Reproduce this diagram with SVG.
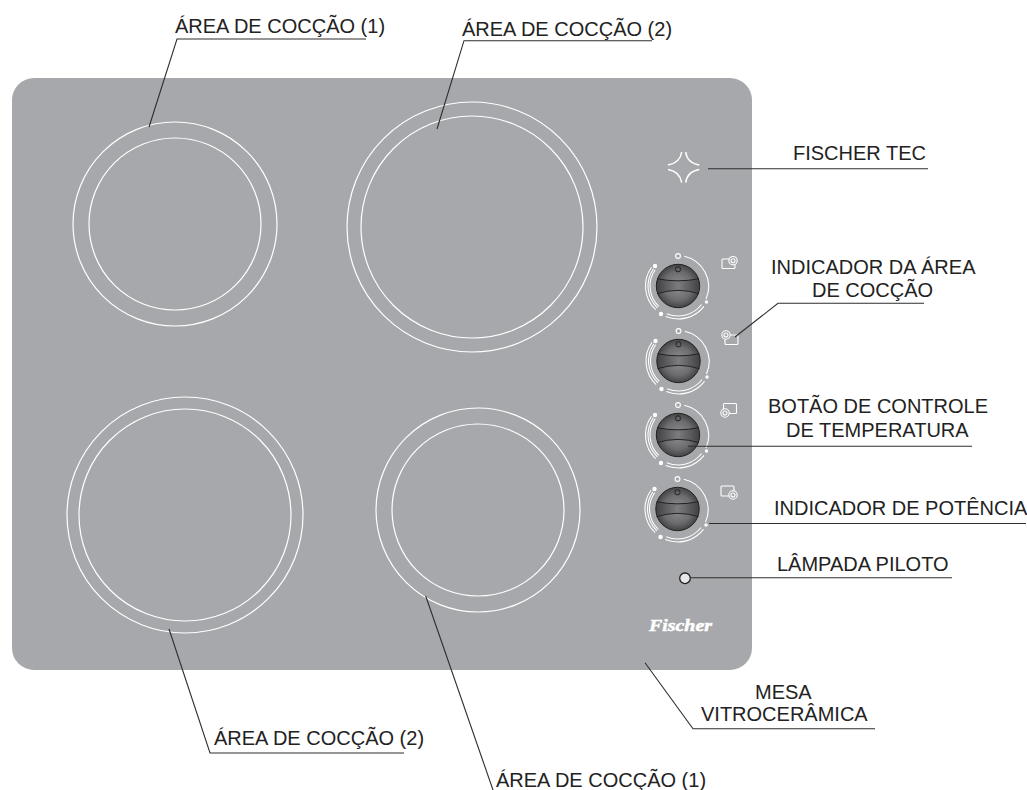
<svg xmlns="http://www.w3.org/2000/svg" xmlns:xlink="http://www.w3.org/1999/xlink" width="1027" height="790" viewBox="0 0 1027 790">
<style>
text{font-family:"Liberation Sans",Arial,sans-serif;font-size:20px;fill:#222}
.z{fill:none;stroke:#fff;stroke-width:1.200}
.w{fill:none;stroke:#fff;stroke-width:1.100}
.l{fill:none;stroke:#2e2e2e;stroke-width:1.100}
.ic{fill:none;stroke:#fff;stroke-width:1.100}
.ir{fill:#a7a8ab;stroke:#fff;stroke-width:1.100}
</style>
<defs>
<radialGradient id="kn" cx="0.5" cy="0.5" r="0.55"><stop offset="0" stop-color="#909092"/><stop offset="0.6" stop-color="#6c6c6e"/><stop offset="1" stop-color="#38383a"/></radialGradient>
<linearGradient id="kb" x1="0" x2="1" y1="0" y2="0"><stop offset="0" stop-color="#404042"/><stop offset="0.5" stop-color="#7c7c7e"/><stop offset="1" stop-color="#404042"/></linearGradient>
<clipPath id="kc"><circle r="21.700"/></clipPath>
<g id="knob">
<circle cy="-30" r="2.400" class="w"/>
<path class="w" d="M6.300-29.700A31 31 0 0 1 28 13"/>
<path class="w" d="M23.600 18.500A30 30 0 0 1-11.200 27.800M26 20.300A33 33 0 0 1-12.300 30.600"/>
<path class="w" d="M-19.200 20.400A28 28 0 0 1-22.800-16.200M-20.600 21.800A30 30 0 0 1-24.500-17.300M-22.300 23.700A32.500 32.500 0 0 1-26.500-18.800"/>
<circle cx="28.500" cy="16" r="1.700" fill="#fff"/><circle cx="-17" cy="28" r="2.200" fill="#fff"/><circle cx="-23" cy="-20" r="2.200" fill="#fff"/>
<circle r="21.700" fill="url(#kn)"/>
<g clip-path="url(#kc)"><path d="M-22-7.300Q0-3 22-7.300V7.700Q0 1-22 7.700Z" fill="url(#kb)"/></g>
<path d="M-21-7.300Q0-3 21-7.300M-21 7.700Q0 1 21 7.700" fill="none" stroke="#222" stroke-width="1"/>
<circle r="21.700" fill="none" stroke="#222" stroke-width="1"/>
<circle cy="-16.700" r="2.600" fill="none" stroke="#222" stroke-width="1"/>
</g>
</defs>
<rect width="1027" height="790" fill="#fff"/>
<g id="cooktop"><rect x="12" y="78" width="740" height="592" rx="22" fill="#a7a8ab"/></g>
<g id="zone-1"><circle class="z" cx="175" cy="224" r="102"/><circle class="z" cx="175" cy="224" r="86"/></g>
<g id="zone-2"><circle class="z" cx="472" cy="227" r="125"/><circle class="z" cx="472" cy="227" r="111"/></g>
<g id="zone-3"><circle class="z" cx="185" cy="515" r="118"/><circle class="z" cx="185" cy="515" r="106"/></g>
<g id="zone-4"><circle class="z" cx="478" cy="510" r="102"/><circle class="z" cx="478" cy="510" r="86"/></g>
<g id="fischer-tec"><path d="M681.700 152Q680 163 668 165M685.700 152Q687 163 699.300 165M668 169.500Q680 171.500 681.700 182.700M699.300 169.500Q687 171.500 685.700 182.700" fill="none" stroke="#fff" stroke-width="1.500"/></g>
<g id="knob-1"><use xlink:href="#knob" href="#knob" x="678" y="286"/></g>
<g id="knob-2"><use xlink:href="#knob" href="#knob" x="678.500" y="361"/></g>
<g id="knob-3"><use xlink:href="#knob" href="#knob" x="678" y="435"/></g>
<g id="knob-4"><use xlink:href="#knob" href="#knob" x="677.500" y="509"/></g>
<g id="indicator-1"><rect class="ic" x="722" y="259" width="13" height="9.500" rx="1"/><circle class="ir" cx="733" cy="260.700" r="4.200"/><circle class="ic" cx="733" cy="260.700" r="2"/></g>
<g id="indicator-2"><rect class="ic" x="725" y="335" width="13" height="9.500" rx="1"/><circle class="ir" cx="726" cy="335" r="4.200"/><circle class="ic" cx="726" cy="335" r="2"/></g>
<g id="indicator-3"><rect class="ic" x="723.500" y="403.500" width="13" height="10" rx="1"/><circle class="ir" cx="725" cy="413" r="4.200"/><circle class="ic" cx="725" cy="413" r="2"/></g>
<g id="indicator-4"><rect class="ic" x="721" y="486" width="13" height="10" rx="1"/><circle class="ir" cx="733" cy="495" r="4.200"/><circle class="ic" cx="733" cy="495" r="2"/></g>
<g id="logo"><text x="649" y="631" textLength="63" lengthAdjust="spacingAndGlyphs" style="font-family:'Liberation Serif',serif;font-style:italic;font-weight:bold;font-size:17px;fill:#fff;stroke:#fff;stroke-width:.5">Fischer</text></g>
<g id="connectors">
<path class="l" d="M149 127L177 39H366"/>
<path class="l" d="M437 129L464 40.700H652"/>
<path class="l" d="M708 168.700H928"/>
<path class="l" d="M735 337L778 303.300H924"/>
<path class="l" d="M688 446.300H972"/>
<path class="l" d="M709 523.500H1026"/>
<path class="l" d="M690 577.800H952"/>
<path class="l" d="M645 662.700L693 728.700H875"/>
<path class="l" d="M169 629L210 753H404"/>
<path class="l" d="M425.700 596L493 790"/>
</g>
<g id="pilot"><circle cx="685" cy="578.300" r="5.300" fill="#e8e8ea" stroke="#222" stroke-width="1.300"/></g>
<g id="labels">
<text x="175" y="32.500">ÁREA DE COCÇÃO (1)</text>
<text x="462" y="35.500">ÁREA DE COCÇÃO (2)</text>
<text x="793" y="160">FISCHER TEC</text>
<text x="771" y="274">INDICADOR DA ÁREA</text>
<text x="812" y="296.700">DE COCÇÃO</text>
<text x="768" y="413">BOTÃO DE CONTROLE</text>
<text x="786" y="437">DE TEMPERATURA</text>
<text x="774" y="515">INDICADOR DE POTÊNCIA</text>
<text x="777" y="571">LÂMPADA PILOTO</text>
<text x="755" y="699">MESA</text>
<text x="701" y="720.700">VITROCERÂMICA</text>
<text x="214" y="745">ÁREA DE COCÇÃO (2)</text>
<text x="496" y="786.500">ÁREA DE COCÇÃO (1)</text>
</g>
</svg>
